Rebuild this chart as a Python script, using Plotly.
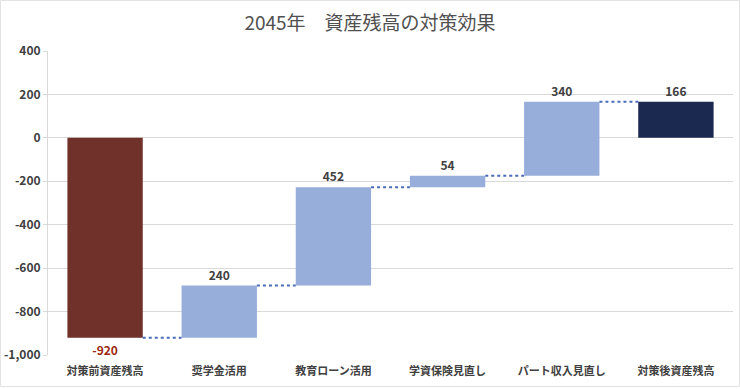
import plotly.graph_objects as go

categories = ["対策前資産残高", "奨学金活用", "教育ローン活用", "学資保険見直し", "パート収入見直し", "対策後資産残高"]
values = [-920, 240, 452, 54, 340, 166]
measures = ["absolute", "relative", "relative", "relative", "relative", "total"]
bar_colors = ["#70312A", "#97ADDA", "#97ADDA", "#97ADDA", "#97ADDA", "#1B2850"]
label_colors = ["#9C2B12", "#404040", "#404040", "#404040", "#404040", "#404040"]
y_tickvals = [400, 200, 0, -200, -400, -600, -800, -1000]
y_ticktext = ["400", "200", "0", "-200", "-400", "-600", "-800", "-1,000"]

# compute bases / heights from the waterfall measures
bases, heights, levels = [], [], []
running = 0
for v, m in zip(values, measures):
    if m == "absolute":
        bases.append(0); heights.append(v); running = v
    elif m == "relative":
        bases.append(running); heights.append(v); running += v
    else:
        bases.append(0); heights.append(running)
    levels.append(running)

xs = list(range(len(categories)))
W = 0.66
FONT = "Noto Sans CJK JP"

fig = go.Figure()
fig.add_trace(go.Bar(
    x=xs, y=heights, base=bases, width=W,
    marker=dict(color=bar_colors, line=dict(width=0)),
    text=[f"{v}" for v in values], textposition="outside",
    textfont=dict(family=FONT, size=12, color=label_colors, weight="bold"),
    cliponaxis=False, hoverinfo="skip", showlegend=False,
))

for i in range(len(categories) - 1):
    fig.add_trace(go.Scatter(
        x=[xs[i] + W / 2, xs[i + 1] - W / 2], y=[levels[i], levels[i]],
        mode="lines", line=dict(color="#4A6CB8", width=2, dash="dot"),
        hoverinfo="skip", showlegend=False,
    ))

fig.update_layout(
    width=740, height=389,
    margin=dict(l=48, r=7, t=51, b=34, autoexpand=False),
    paper_bgcolor="white", plot_bgcolor="white",
    title=dict(text="2045年\u3000資産残高の対策効果", x=0.5, xanchor="center",
               y=1 - 23 / 389, yanchor="middle",
               font=dict(family=FONT, size=19, color="#505050")),
    xaxis=dict(range=[-0.5, len(categories) - 0.5], tickvals=xs, ticktext=categories,
               showgrid=False, zeroline=False, showline=False, ticks="",
               ticklabelstandoff=8, automargin=False,
               tickfont=dict(family=FONT, size=11, color="#404040", weight="bold")),
    yaxis=dict(range=[-1000, 400], tickvals=y_tickvals, ticktext=y_ticktext,
               showgrid=True, gridcolor="#D9D9D9", gridwidth=1,
               zeroline=False, showline=True, linecolor="#D9D9D9", linewidth=1,
               ticks="outside", ticklen=4, tickcolor="#D9D9D9", automargin=False,
               tickfont=dict(family=FONT, size=12, color="#404040", weight="bold")),
    shapes=[dict(type="rect", xref="paper", yref="paper",
                 x0=-47.5 / 685, x1=1 + 6.5 / 685, y0=-(389 - 355 - 2.5) / 304, y1=1 + 50.5 / 304,
                 line=dict(color="#E3E3E3", width=1), fillcolor="rgba(0,0,0,0)", layer="below")],
)

fig.write_html("out.html", config={"displayModeBar": False},
               post_script="document.body.style.margin='0';document.body.style.overflow='hidden';")
